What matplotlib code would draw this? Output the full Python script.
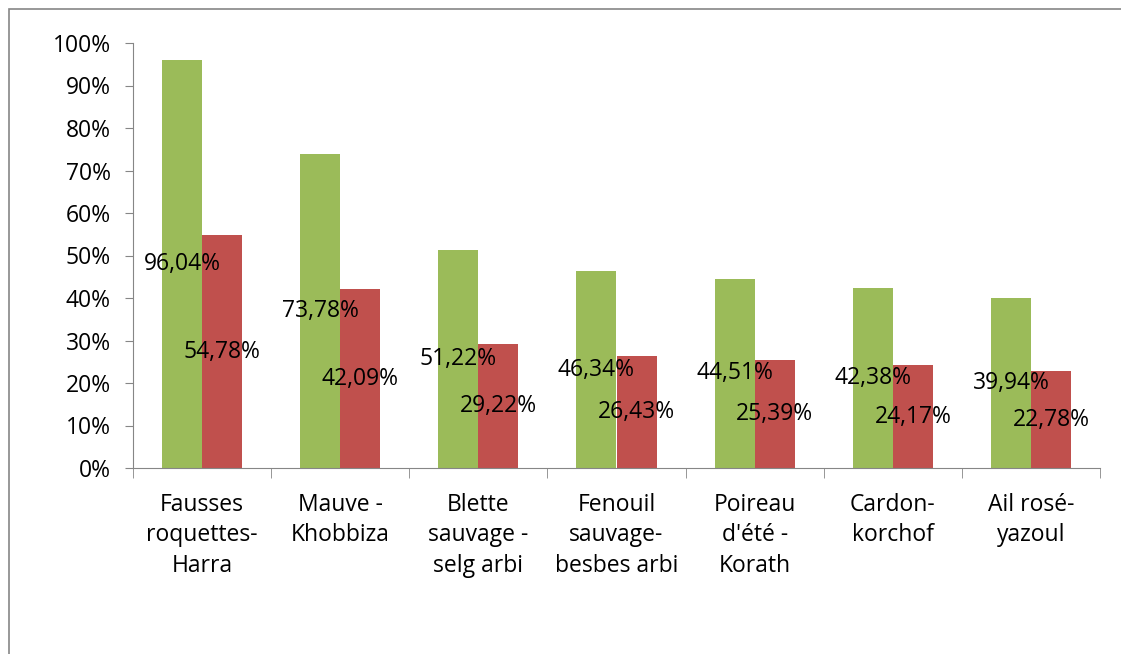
import numpy as np
import matplotlib.pyplot as plt
from matplotlib.patches import Rectangle
from matplotlib.ticker import FixedLocator, MultipleLocator

# Data
categories = ["Fausses\nroquettes-\nHarra", "Mauve -\nKhobbiza", "Blette\nsauvage -\nselg arbi",
              "Fenouil\nsauvage-\nbesbes arbi", "Poireau\nd'été -\nKorath", "Cardon-\nkorchof",
              "Ail rosé-\nyazoul"]
green_vals = [96.04, 73.78, 51.22, 46.34, 44.51, 42.38, 39.94]
red_vals = [54.78, 42.09, 29.22, 26.43, 25.39, 24.17, 22.78]

plt.rcParams['font.family'] = ['Open Sans', 'DejaVu Sans']

fig = plt.figure(figsize=(11.21, 6.54), dpi=100)
ax = fig.add_axes([133 / 1121, 1 - 468 / 654, (1100 - 133) / 1121, (468 - 43) / 654])

# outer chart frame (right and bottom edges fall outside the image)
fig.patches.append(Rectangle((9 / 1121, -0.05), 1.1, 1.05 - 9 / 654,
                             transform=fig.transFigure, fill=False,
                             edgecolor='#868686', linewidth=1.2))

x = np.arange(len(categories))
w = 0.29
ax.bar(x - w / 2, green_vals, width=w, color='#9BBB59')
ax.bar(x + w / 2, red_vals, width=w, color='#C0504D')

fs = 16.5
for i in range(len(categories)):
    ax.text(x[i] - w / 2, green_vals[i] / 2, f"{green_vals[i]:.2f}%".replace('.', ','),
            ha='center', va='center', fontsize=fs)
    ax.text(x[i] + w / 2, red_vals[i] / 2, f"{red_vals[i]:.2f}%".replace('.', ','),
            ha='center', va='center', fontsize=fs)

ax.set_xlim(-0.5, len(categories) - 0.5)
ax.set_ylim(0, 100)
ax.yaxis.set_major_locator(MultipleLocator(10))
ax.set_yticklabels([f"{int(v)}%" for v in ax.get_yticks()], fontsize=fs)

ax.set_xticks(x)
ax.set_xticklabels(categories, fontsize=fs, linespacing=1.36)
ax.tick_params(axis='x', which='major', length=0, pad=18)
ax.xaxis.set_minor_locator(FixedLocator(np.arange(-0.5, len(categories), 1.0)))
ax.tick_params(axis='x', which='minor', length=7, color='#868686')
ax.tick_params(axis='y', length=6, color='#868686', pad=10)

for s in ['top', 'right']:
    ax.spines[s].set_visible(False)
for s in ['left', 'bottom']:
    ax.spines[s].set_color('#868686')

fig.savefig('out.png', dpi=100)
